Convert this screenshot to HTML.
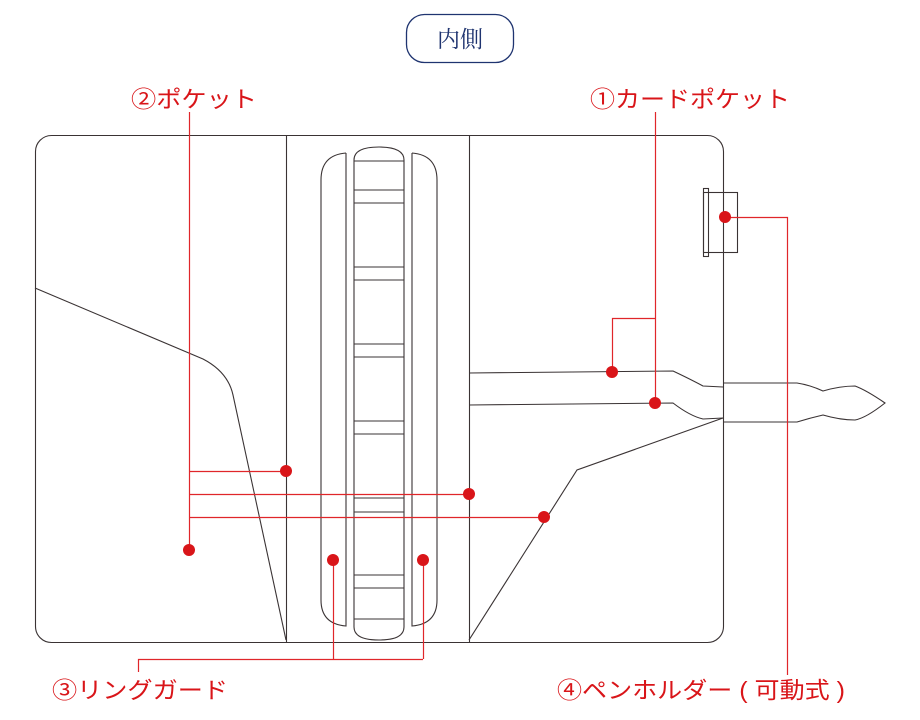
<!DOCTYPE html>
<html><head><meta charset="utf-8"><style>
html,body{margin:0;padding:0;background:#fff;}
svg{display:block;}
text{font-family:"Liberation Sans","Noto Sans CJK JP",sans-serif;}
</style></head><body>
<svg width="920" height="720" viewBox="0 0 920 720" xmlns="http://www.w3.org/2000/svg">
<rect x="406.5" y="14.5" width="107" height="48" rx="18" fill="#fff" stroke="#1f3470" stroke-width="1.3"/>
<text x="460" y="47" font-size="23" fill="#1f3470" text-anchor="middle" style="font-family:'Liberation Serif','Noto Serif CJK SC',serif">内側</text>

<g fill="none" stroke="#3a3334" stroke-width="1.1">
<rect x="35.5" y="135.5" width="688" height="507" rx="16"/>
<line x1="286.5" y1="135" x2="286.5" y2="642"/>
<line x1="469.5" y1="135" x2="469.5" y2="642"/>
<path d="M35 288 L203 359 Q228 372 233 395 L286 640"/>
<path d="M346 153 L346 626 Q321 624 321 600 L321 180 Q321 155 346 153"/>
<path d="M412 153 L412 626 Q437 624 437 600 L437 180 Q437 155 412 153"/>
<path d="M354 160 Q354 147 379 147 Q404 147 404 160 L404 627 Q404 640 379 640 Q354 640 354 627 Z"/>
<g stroke-width="1">
<line x1="354" y1="161" x2="404" y2="161"/>
<line x1="354" y1="190" x2="404" y2="190"/>
<line x1="354" y1="203" x2="404" y2="203"/>
<line x1="354" y1="267" x2="404" y2="267"/>
<line x1="354" y1="280" x2="404" y2="280"/>
<line x1="354" y1="344" x2="404" y2="344"/>
<line x1="354" y1="357" x2="404" y2="357"/>
<line x1="354" y1="421" x2="404" y2="421"/>
<line x1="354" y1="434" x2="404" y2="434"/>
<line x1="354" y1="498" x2="404" y2="498"/>
<line x1="354" y1="512" x2="404" y2="512"/>
<line x1="354" y1="575" x2="404" y2="575"/>
<line x1="354" y1="588" x2="404" y2="588"/>
<line x1="354" y1="619" x2="404" y2="619"/>
</g>
<rect x="703.5" y="192.5" width="34" height="60"/>
<rect x="703.5" y="188.5" width="5" height="68"/>
<path d="M469 373 L673 371 Q690 379 703 386 L723 387"/>
<path d="M469 405 L673 403 Q690 416 703 419 L723 418"/>
<path d="M723 383 L797 383 Q810 385 823 391 Q840 386 855 386 Q866 390 885 403 Q866 418 855 420 Q840 420 823 415 Q810 418 797 422 L723 422"/>
<path d="M723 418 L577 470 L469 640"/>
</g>

<g stroke="#e0262a" stroke-width="1.2" fill="none">
<line x1="189.5" y1="112" x2="189.5" y2="550"/>
<line x1="189" y1="471.5" x2="286" y2="471.5"/>
<line x1="189" y1="494.5" x2="469" y2="494.5"/>
<line x1="189" y1="517.5" x2="544" y2="517.5"/>
<line x1="655.5" y1="112" x2="655.5" y2="403"/>
<polyline points="655,318.5 612.5,318.5 612.5,372"/>
<polyline points="725,217.5 787.5,217.5 787.5,675"/>
<line x1="333.5" y1="560" x2="333.5" y2="659"/>
<line x1="423.5" y1="560" x2="423.5" y2="659"/>
<polyline points="423,659.5 138.5,659.5 138.5,672"/>
</g>
<g fill="#d91519">
<circle cx="286" cy="471" r="6"/>
<circle cx="469" cy="494" r="6"/>
<circle cx="544" cy="517" r="6"/>
<circle cx="189" cy="550" r="6"/>
<circle cx="333" cy="560" r="6"/>
<circle cx="423" cy="560" r="6"/>
<circle cx="612" cy="372" r="6"/>
<circle cx="655" cy="403" r="6"/>
<circle cx="725" cy="217" r="6"/>
</g>
<g fill="#d91519" font-size="23">
<text x="131" y="107" textLength="126" lengthAdjust="spacingAndGlyphs">②ポケット</text>
<text x="590" y="107" textLength="200" lengthAdjust="spacingAndGlyphs">①カードポケット</text>
<text x="52" y="698" textLength="176" lengthAdjust="spacingAndGlyphs">③リングガード</text>
<text x="557" y="698" textLength="288" lengthAdjust="spacingAndGlyphs">④ペンホルダー ( 可動式 )</text>
</g>
</svg>
</body></html>
